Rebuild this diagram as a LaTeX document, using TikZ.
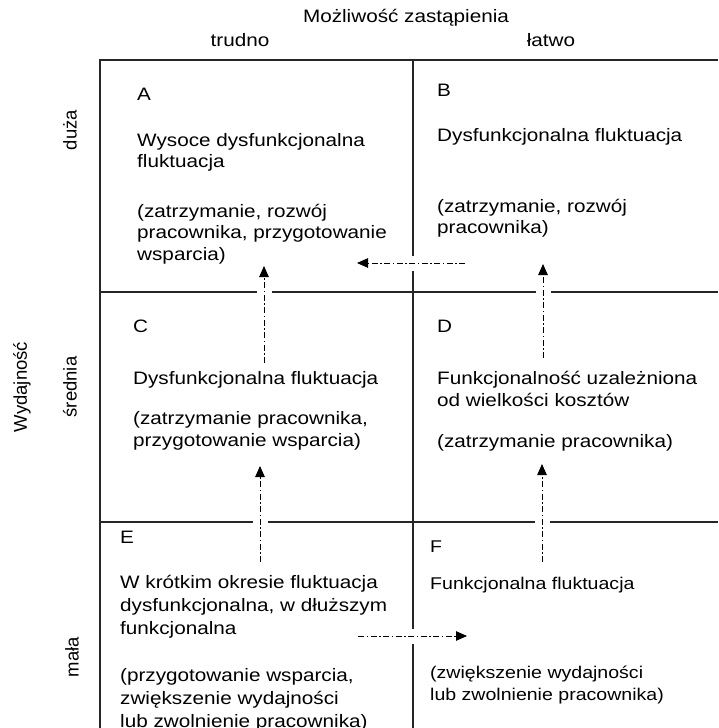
\documentclass[tikz,border=0pt]{standalone}
\usepackage{fontspec}
\setmainfont{Liberation Sans}[FakeStretch=1.15]
\newfontfamily\upfont{Liberation Sans}
\usetikzlibrary{arrows.meta}
\tikzset{
  grid/.style={line width=1.2pt, draw=black!85},
  flow/.style={line width=0.9pt, draw=black,
    dash pattern=on 6pt off 2.5pt on 1.5pt off 2.5pt,
    -{Triangle[length=11pt,width=9.5pt]},
    preaction={draw=white, solid, line width=15pt, -}},
  txt/.style={anchor=base west, inner sep=0pt, align=left,
    font=\fontsize{18}{21.7}\selectfont},
  txte/.style={anchor=base west, inner sep=0pt, align=left,
    font=\fontsize{18}{23}\selectfont},
  txtf/.style={anchor=base west, inner sep=0pt, align=left,
    font=\fontsize{17}{21.7}\selectfont},
  head/.style={anchor=base, inner sep=0pt, font=\fontsize{18}{21.7}\selectfont},
  side/.style={rotate=90, inner sep=0pt, font=\upfont\fontsize{18.5}{22}\selectfont}
}
\begin{document}
\begin{tikzpicture}[x=1pt,y=-1pt]
\useasboundingbox (0,0) rectangle (718,728);
% headings
\node[head] (title) at (406,22) {Możliwość zastąpienia};
\node[head] (trudno) at (240,46) {trudno};
\node[head] (latwo) at (551,46) {łatwo};
\node[side] (wyd) at (22,387) {Wydajność};
\node[side] (duza) at (70,130) {duża};
\node[side] (srednia) at (70,387) {średnia};
\node[side] (mala) at (72,657) {mała};
% grid
\draw[grid] (100,728) -- (100,60) -- (718,60);
\draw[grid] (413,60) -- (413,728);
\draw[grid] (100,292) -- (718,292);
\draw[grid] (100,522) -- (718,522);
% A (multi-line nodes are placed at the baseline of their last line)
\node[txt] (A) at (137,100) {A};
\node[txt] (Ad) at (137,167.7) {Wysoce dysfunkcjonalna\\fluktuacja};
\node[txt] (Ap) at (137,260.4) {(zatrzymanie, rozwój\\pracownika, przygotowanie\\wsparcia)};
% B
\node[txt] (B) at (437,96) {B};
\node[txt] (Bd) at (437,141) {Dysfunkcjonalna fluktuacja};
\node[txt] (Bp) at (437,233.7) {(zatrzymanie, rozwój\\pracownika)};
% C
\node[txt] (C) at (133,332) {C};
\node[txt] (Cd) at (133,384) {Dysfunkcjonalna fluktuacja};
\node[txt] (Cp) at (133,446.5) {(zatrzymanie pracownika,\\przygotowanie wsparcia)};
% D
\node[txt] (D) at (437,332) {D};
\node[txt] (Dd) at (437,406.5) {Funkcjonalność uzależniona\\od wielkości kosztów};
\node[txt] (Dp) at (437,447) {(zatrzymanie pracownika)};
% E
\node[txt] (E) at (120,543) {E};
\node[txte] (Ed) at (120,634) {W krótkim okresie fluktuacja\\dysfunkcjonalna, w dłuższym\\funkcjonalna};
\node[txte] (Ep) at (120,727.5) {(przygotowanie wsparcia,\\zwiększenie wydajności\\lub zwolnienie pracownika)};
% F
\node[txtf] (F) at (430,552) {F};
\node[txtf] (Fd) at (430,589) {Funkcjonalna fluktuacja};
\node[txtf] (Fp) at (430,700.5) {(zwiększenie wydajności\\lub zwolnienie pracownika)};
% arrows
\coordinate (b1) at (465,263); \coordinate (e1) at (357,263);
\coordinate (b2) at (264,363); \coordinate (e2) at (264,266);
\coordinate (b3) at (543,358); \coordinate (e3) at (543,264);
\coordinate (b4) at (260,562); \coordinate (e4) at (260,466);
\coordinate (b5) at (542,562); \coordinate (e5) at (542,464);
\coordinate (b6) at (358,636); \coordinate (e6) at (467,636);
\draw[flow] (b1) -- (e1);
\draw[flow] (b2) -- (e2);
\draw[flow] (b3) -- (e3);
\draw[flow] (b4) -- (e4);
\draw[flow] (b5) -- (e5);
\draw[flow] (b6) -- (e6);
\end{tikzpicture}
\end{document}
